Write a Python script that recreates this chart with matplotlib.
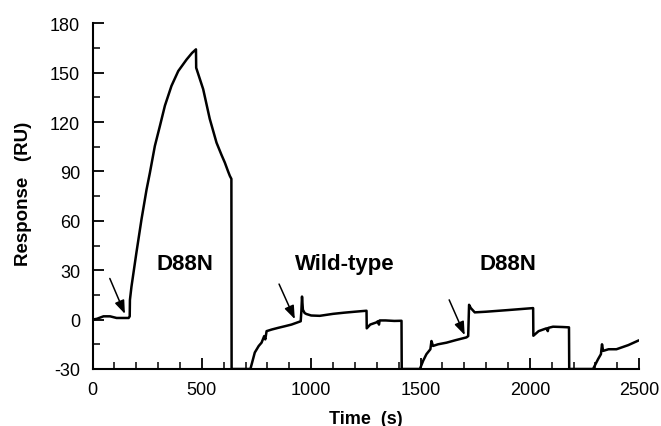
import matplotlib
matplotlib.use("Agg")
import matplotlib.pyplot as plt
from matplotlib.ticker import MultipleLocator

plt.rcParams["font.family"] = ["Liberation Sans", "DejaVu Sans"]
plt.rcParams["axes.unicode_minus"] = False

# sensorgram trace (time in s, response in RU)
time_s = [0, 20, 50, 80, 110, 140, 165, 170, 171, 178, 201, 224, 247, 262,
          285, 308, 331, 361, 392, 430, 455, 473, 474, 506, 536, 567, 590,
          605, 620, 628, 635, 636,
          722, 742, 760, 773, 785, 790, 796, 820, 849, 880, 910, 952, 955, 958,
          962, 970, 978, 1000, 1039, 1100, 1150, 1200, 1253, 1254, 1270, 1298,
          1305, 1310, 1313, 1340, 1380, 1413, 1414,
          1497, 1512, 1527, 1545, 1550, 1557, 1580, 1619, 1660, 1710, 1718,
          1722, 1730, 1748, 1800, 1900, 2015, 2016, 2040, 2076, 2082, 2085,
          2106, 2150, 2179, 2180,
          2289, 2312, 2325, 2330, 2335, 2360, 2396, 2450, 2495]
response = [0, 0.5, 2, 2, 1, 1, 1, 2, 12, 20, 41, 61, 79, 89,
            105.5, 117.6, 130, 142, 151, 158, 162, 164.2, 153, 140, 122, 107.5, 100,
            95.4, 90, 87.3, 85.5, -30,
            -30, -20, -16, -14, -10, -12, -7, -6, -5, -4, -3, -1, 5, 14,
            6, 4, 3.4, 2.5, 2.3, 3.5, 4.2, 4.8, 5.4, -5.3, -3, -1.7,
            -1, -3, -0.5, -0.5, -0.8, -0.7, -30,
            -30, -25, -21, -18, -13, -16, -15, -14, -12.5, -10.8, -10,
            9, 7, 4.4, 4.8, 5.8, 7, -9.8, -7, -5.3, -7, -5,
            -4.3, -4.5, -4.7, -30,
            -30, -24, -21, -15, -19, -18, -18, -15.5, -12.8]

# injection arrows: (tail_x, tail_y, head_x, head_y)
arrows = [(79, 25, 148, 3.5), (853, 21.6, 925, 0.3), (1631, 12, 1702, -9.4)]

labels = ["D88N", "Wild-type", "D88N"]
label_x = [423, 1154, 1899]
label_y = 34

fig = plt.figure(figsize=(6.61, 4.27), dpi=100)
ax = fig.add_axes([0.140, 0.1335, 0.827, 0.8095])

ax.plot(time_s, response, color="black", linewidth=1.8, solid_joinstyle="round")

for tx, ty, hx, hy in arrows:
    ax.annotate("", xy=(hx, hy), xytext=(tx, ty),
                arrowprops=dict(arrowstyle="-|>,head_length=0.8,head_width=0.3",
                                color="black", lw=1.1, mutation_scale=10,
                                shrinkA=0, shrinkB=0))

for name, lx in zip(labels, label_x):
    ax.text(lx, label_y, name, ha="center", va="center",
            fontsize=16, fontweight="bold")

ax.set_xlim(0, 2500)
ax.set_ylim(-30, 180)
ax.xaxis.set_major_locator(MultipleLocator(500))
ax.xaxis.set_minor_locator(MultipleLocator(100))
ax.yaxis.set_major_locator(MultipleLocator(30))
ax.yaxis.set_minor_locator(MultipleLocator(15))

ax.spines[["top", "right"]].set_visible(False)
for s in ("left", "bottom"):
    ax.spines[s].set_linewidth(1.5)
ax.tick_params(which="major", direction="in", length=8, width=1.3,
               labelsize=13, pad=9)
ax.tick_params(which="minor", direction="in", length=5, width=1.1)

ax.set_xlabel("Time  (s)", fontsize=13, fontweight="bold", labelpad=8)
ax.set_ylabel("Response   (RU)", fontsize=13.5, fontweight="bold")
ax.yaxis.set_label_coords(-0.111, 0.51)

fig.savefig("out.png", dpi=100)
